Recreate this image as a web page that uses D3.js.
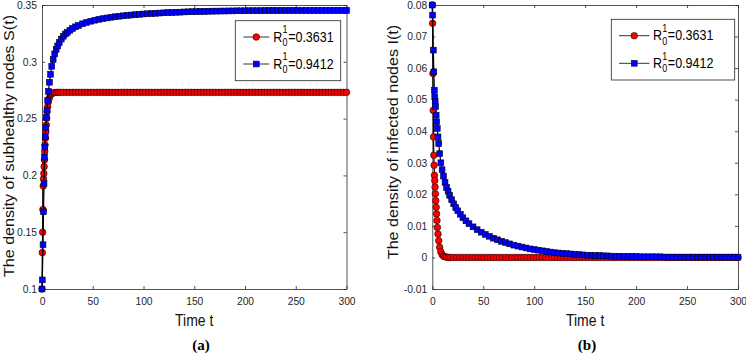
<!DOCTYPE html>
<html lang="en">
<head>
  <meta charset="UTF-8">
  <title>Density of subhealthy and infected nodes</title>
  <script src="https://d3js.org/d3.v7.min.js"></script>
  <style>
    body { margin: 0; background: #fff; }
    svg { display: block; font-family: 'Liberation Sans', Arial, sans-serif; }
    .tick text { font-size: 10.3px; fill: #262626; }
    .tick line, .domain { stroke: #262626; stroke-width: 0.8; }
  </style>
</head>
<body>
  <svg id="chart" width="746" height="353"></svg>

  <script>
    // R0 = 0.3631 (red circles) : time grid, S(t), I(t)
    const tRed = [
      0, 0.3, 0.6, 0.9, 1.2, 1.5, 1.8, 2.1, 2.4, 2.7,
      3.0, 3.4, 3.8, 4.2, 4.6, 5.0, 5.6, 6.3, 7.2, 8.3,
      9.6, 11, 12.5, 14, 16,
      18, 21, 24, 27, 30, 33, 36, 39, 42, 45,
      48, 51, 54, 57, 60, 63, 66, 69, 72, 75,
      78, 81, 84, 87, 90, 93, 96, 99, 102, 105,
      108, 111, 114, 117, 120, 123, 126, 129, 132, 135,
      138, 141, 144, 147, 150, 153, 156, 159, 162, 165,
      168, 171, 174, 177, 180, 183, 186, 189, 192, 195,
      198, 201, 204, 207, 210, 213, 216, 219, 222, 225,
      228, 231, 234, 237, 240, 243, 246, 249, 252, 255,
      258, 261, 264, 267, 270, 273, 276, 279, 282, 285,
      288, 291, 294, 297, 300
    ];
    const sRed = [
      0.1000, 0.1320, 0.1500, 0.1700, 0.1907, 0.1970, 0.2017, 0.2077, 0.2136, 0.2209,
      0.2268, 0.2327, 0.2385, 0.2444, 0.2503, 0.2562, 0.2606, 0.2650, 0.2680, 0.2709,
      0.2720, 0.2726, 0.2729, 0.2730, 0.2731,
      0.2731, 0.2731, 0.2731, 0.2731, 0.2731, 0.2731, 0.2731, 0.2731, 0.2731, 0.2731,
      0.2731, 0.2731, 0.2731, 0.2731, 0.2731, 0.2731, 0.2731, 0.2731, 0.2731, 0.2731,
      0.2731, 0.2731, 0.2731, 0.2731, 0.2731, 0.2731, 0.2731, 0.2731, 0.2731, 0.2731,
      0.2731, 0.2731, 0.2731, 0.2731, 0.2731, 0.2731, 0.2731, 0.2731, 0.2731, 0.2731,
      0.2731, 0.2731, 0.2731, 0.2731, 0.2731, 0.2731, 0.2731, 0.2731, 0.2731, 0.2731,
      0.2731, 0.2731, 0.2731, 0.2731, 0.2731, 0.2731, 0.2731, 0.2731, 0.2731, 0.2731,
      0.2731, 0.2731, 0.2731, 0.2731, 0.2731, 0.2731, 0.2731, 0.2731, 0.2731, 0.2731,
      0.2731, 0.2731, 0.2731, 0.2731, 0.2731, 0.2731, 0.2731, 0.2731, 0.2731, 0.2731,
      0.2731, 0.2731, 0.2731, 0.2731, 0.2731, 0.2731, 0.2731, 0.2731, 0.2731, 0.2731,
      0.2731, 0.2731, 0.2731, 0.2731, 0.2731
    ];
    const iRed = [
      0.0800, 0.0742, 0.0583, 0.0466, 0.0382, 0.0324, 0.0292, 0.0260, 0.0244, 0.0223,
      0.0202, 0.0180, 0.0159, 0.0138, 0.0117, 0.0095, 0.0074, 0.0053, 0.0032, 0.0018,
      0.0009, 0.0004, 0.0002, 0.0001, 0.0000,
      0, 0, 0, 0, 0, 0, 0, 0, 0, 0,
      0, 0, 0, 0, 0, 0, 0, 0, 0, 0,
      0, 0, 0, 0, 0, 0, 0, 0, 0, 0,
      0, 0, 0, 0, 0, 0, 0, 0, 0, 0,
      0, 0, 0, 0, 0, 0, 0, 0, 0, 0,
      0, 0, 0, 0, 0, 0, 0, 0, 0, 0,
      0, 0, 0, 0, 0, 0, 0, 0, 0, 0,
      0, 0, 0, 0, 0, 0, 0, 0, 0, 0,
      0, 0, 0, 0, 0, 0, 0, 0, 0, 0,
      0, 0, 0, 0, 0
    ];

    // R0 = 0.9412 (blue squares) : time grid, S(t), I(t)
    const tBlue = [
      0, 0.3, 1, 1.5, 2, 2.4, 2.8, 3.2, 3.8, 4.3,
      4.9, 5.6, 6.3, 7.3, 8.4, 9.6, 11, 12.5, 14, 15.5,
      17, 19, 21, 23, 25, 27.5, 30, 33, 36,
      40, 44, 48, 52, 56, 60, 64, 68, 72, 76, 80, 84, 88, 92, 96,
      100, 104, 108, 112, 116, 120, 124, 128, 132, 136,
      140, 144, 148, 152, 156, 160, 164, 168, 172, 176,
      180, 184, 188, 192, 196, 200, 204, 208, 212, 216,
      220, 224, 228, 232, 236, 240, 244, 248, 252, 256,
      260, 264, 268, 272, 276, 280, 284, 288, 292, 296,
      300
    ];
    const sBlue = [
      0.1000, 0.1080, 0.1390, 0.1680, 0.1930, 0.2160, 0.2250, 0.2340, 0.2420, 0.2510,
      0.2575, 0.2660, 0.2740, 0.2820, 0.2890, 0.2960, 0.3020, 0.3070, 0.3110, 0.3140,
      0.3170, 0.3200, 0.3225, 0.3245, 0.3260, 0.3278, 0.3293, 0.3308, 0.3320,
      0.3335, 0.3347, 0.3357, 0.3366, 0.3374, 0.3380, 0.3386, 0.3392, 0.3397, 0.3401,
      0.3405, 0.3409, 0.3412, 0.3415, 0.3418,
      0.3421, 0.3423, 0.3425, 0.3427, 0.3429, 0.3431, 0.3433, 0.3434, 0.3436, 0.3437,
      0.3439, 0.3440, 0.3441, 0.3442, 0.3443, 0.3444, 0.3445, 0.3446, 0.3446, 0.3447,
      0.3447, 0.3448, 0.3448, 0.3449, 0.3449, 0.3449, 0.3450, 0.3450, 0.3450, 0.3450,
      0.3451, 0.3451, 0.3451, 0.3451, 0.3451, 0.3451, 0.3452, 0.3452, 0.3452, 0.3452,
      0.3452, 0.3452, 0.3452, 0.3452, 0.3452, 0.3452, 0.3452, 0.3452, 0.3452, 0.3452,
      0.3452
    ];
    const iBlue = [
      0.0800, 0.0768, 0.0657, 0.0588, 0.0530, 0.0509, 0.0495, 0.0478, 0.0451, 0.0430,
      0.0409, 0.0382, 0.0361, 0.0329, 0.0300, 0.0278, 0.0258, 0.0238, 0.0222, 0.0210,
      0.0197, 0.0183, 0.0170, 0.0158, 0.0148, 0.0137, 0.0126, 0.0116, 0.0107,
      0.0097, 0.0088, 0.0080, 0.0073, 0.0067, 0.0061, 0.0056, 0.0051, 0.0047, 0.0043,
      0.0039, 0.0036, 0.0033, 0.0030, 0.0027,
      0.0025, 0.0023, 0.0021, 0.0019, 0.0017, 0.0015, 0.0014, 0.0013, 0.0012, 0.0011,
      0.0010, 0.0009, 0.0008, 0.0007, 0.0007, 0.0006, 0.0006, 0.0005, 0.0005, 0.0004,
      0.0004, 0.0004, 0.0003, 0.0003, 0.0003, 0.0003, 0.0002, 0.0002, 0.0002, 0.0002,
      0.0002, 0.0002, 0.0001, 0.0001, 0.0001, 0.0001, 0.0001, 0.0001, 0.0001, 0.0001,
      0.0001, 0.0001, 0.0001, 0.0001, 0.0001, 0.0001, 0.0001, 0.0001, 0.0001, 0.0001,
      0.0001
    ];

    const seriesNames = ["0.3631", "0.9412"];
    const xTicks = [0, 50, 100, 150, 200, 250, 300];
    const sTicks = [0.1, 0.15, 0.2, 0.25, 0.3, 0.35];
    const sTickLabels = ["0.1", "0.15", "0.2", "0.25", "0.3", "0.35"];
    const iTicks = [-0.01, 0, 0.01, 0.02, 0.03, 0.04, 0.05, 0.06, 0.07, 0.08];
    const iTickLabels = ["-0.01", "0", "0.01", "0.02", "0.03", "0.04", "0.05", "0.06", "0.07", "0.08"];

    const svg = d3.select("#chart");
    svg.append("rect").attr("width", 746).attr("height", 353).attr("fill", "#fff");

    const panels = [
      {
        left: 42, right: 346.5, top: 5, bottom: 289,
        yDomain: [0.1, 0.35], yTicks: sTicks, yLabels: sTickLabels,
        red: sRed, blue: sBlue,
        yTitle: "The density of subhealthy nodes S(t)", yTitleX: 13.5, yTitleY: 146,
        legend: { x: 235.3, y: 20.7, w: 105.4, h: 60, rows: [37, 64], lineX: [243.3, 269.3], textX: 273.3 },
        caption: "(a)", captionX: 201
      },
      {
        left: 432.3, right: 738, top: 5, bottom: 289,
        yDomain: [-0.01, 0.08], yTicks: iTicks, yLabels: iTickLabels,
        red: iRed, blue: iBlue,
        yTitle: "The density of infected nodes I(t)", yTitleX: 398, yTitleY: 142,
        legend: { x: 611.3, y: 19.3, w: 123.4, h: 60.7, rows: [35.7, 63.3], lineX: [619, 649.5], textX: 653 },
        caption: "(b)", captionX: 587
      }
    ];

    // text that is drawn a little taller than wide, as in the source image
    function tallText(parent, x, y, str, size, sy) {
      return parent.append("g").attr("transform", `translate(${x},${y}) scale(1,${sy})`)
        .append("text").attr("font-size", size).attr("fill", "#000").text(str);
    }

    function legendLabel(g, x, y, val) {
      const lg = g.append("g").attr("transform", `translate(${x},${y + 4.5}) scale(1,1.15)`);
      const r = lg.append("text").attr("font-size", 12.5).attr("fill", "#000").text("R");
      const w = r.node().getComputedTextLength();
      lg.append("text").attr("x", w + 0.3).attr("y", -7)
        .attr("font-size", 9).attr("fill", "#000").text("1");
      lg.append("text").attr("x", w + 0.3).attr("y", 4)
        .attr("font-size", 9).attr("fill", "#000").text("0");
      lg.append("text").attr("x", w + 5.8)
        .attr("font-size", 12.5).attr("fill", "#000").text("=" + val);
    }

    function drawMarkers(g, pts, kind) {
      if (kind === "circle") {
        g.selectAll(null).data(pts).join("circle")
          .attr("cx", d => d[0]).attr("cy", d => d[1]).attr("r", 3.3)
          .attr("fill", "#ff0000").attr("stroke", "#1a0000").attr("stroke-width", 0.6);
      } else {
        g.selectAll(null).data(pts).join("rect")
          .attr("x", d => d[0] - 2.9).attr("y", d => d[1] - 2.9)
          .attr("width", 5.8).attr("height", 5.8)
          .attr("fill", "#0000ff").attr("stroke", "#000022").attr("stroke-width", 0.6);
      }
    }

    panels.forEach(p => {
      const x = d3.scaleLinear().domain([0, 300]).range([p.left, p.right]);
      const y = d3.scaleLinear().domain(p.yDomain).range([p.bottom, p.top]);
      const g = svg.append("g");

      // axes box with inward ticks on all four sides
      g.append("g").attr("transform", `translate(0,${p.bottom})`)
        .call(d3.axisBottom(x).tickValues(xTicks).tickSizeInner(-3).tickSizeOuter(0).tickPadding(9));
      g.append("g").attr("transform", `translate(0,${p.top})`)
        .call(d3.axisTop(x).tickValues(xTicks).tickSizeInner(-3).tickSizeOuter(0).tickFormat(""));
      g.append("g").attr("transform", `translate(${p.left},0)`)
        .call(d3.axisLeft(y).tickValues(p.yTicks).tickSizeInner(-3).tickSizeOuter(0).tickPadding(5)
          .tickFormat((d, i) => p.yLabels[i]));
      g.append("g").attr("transform", `translate(${p.right},0)`)
        .call(d3.axisRight(y).tickValues(p.yTicks).tickSizeInner(-3).tickSizeOuter(0).tickFormat(""));
      g.selectAll(".tick text").attr("font-family", null);
      g.selectAll(".domain, .tick line").attr("stroke", "#262626");

      const line = d3.line().x(d => d[0]).y(d => d[1]);
      const redPts = tRed.map((t, i) => [x(t), y(p.red[i])]).filter(d => !isNaN(d[1]));
      const bluePts = tBlue.map((t, i) => [x(t), y(p.blue[i])]).filter(d => !isNaN(d[1]));

      g.append("path").attr("d", line(redPts)).attr("fill", "none")
        .attr("stroke", "#000").attr("stroke-width", 1.2);
      drawMarkers(g.append("g"), redPts, "circle");
      g.append("path").attr("d", line(bluePts)).attr("fill", "none")
        .attr("stroke", "#000").attr("stroke-width", 1.2);
      drawMarkers(g.append("g"), bluePts, "square");

      // legend
      const L = p.legend;
      const lg = g.append("g");
      lg.append("rect").attr("x", L.x).attr("y", L.y).attr("width", L.w).attr("height", L.h)
        .attr("fill", "#fff").attr("stroke", "#262626").attr("stroke-width", 0.8);
      ["circle", "square"].forEach((kind, k) => {
        const ry = L.rows[k];
        lg.append("line").attr("x1", L.lineX[0]).attr("x2", L.lineX[1])
          .attr("y1", ry).attr("y2", ry).attr("stroke", "#000").attr("stroke-width", 0.8);
        drawMarkers(lg.append("g"), [[(L.lineX[0] + L.lineX[1]) / 2, ry]], kind);
        legendLabel(lg, L.textX, ry, seriesNames[k]);
      });

      // axis titles and caption
      tallText(g, (p.left + p.right) / 2, 326, "Time t", 14, 1.2)
        .attr("text-anchor", "middle").attr("fill", "#111");
      g.append("text")
        .attr("transform", `translate(${p.yTitleX},${p.yTitleY}) rotate(-90) scale(1.15,1)`)
        .attr("text-anchor", "middle").attr("font-size", 14).attr("fill", "#111")
        .text(p.yTitle);
      g.append("text").attr("x", p.captionX).attr("y", 350)
        .attr("text-anchor", "middle").attr("font-size", 15).attr("font-weight", "bold")
        .attr("font-family", "'Liberation Serif', 'Times New Roman', serif").attr("fill", "#000")
        .text(p.caption);
    });
  </script>
</body>
</html>
